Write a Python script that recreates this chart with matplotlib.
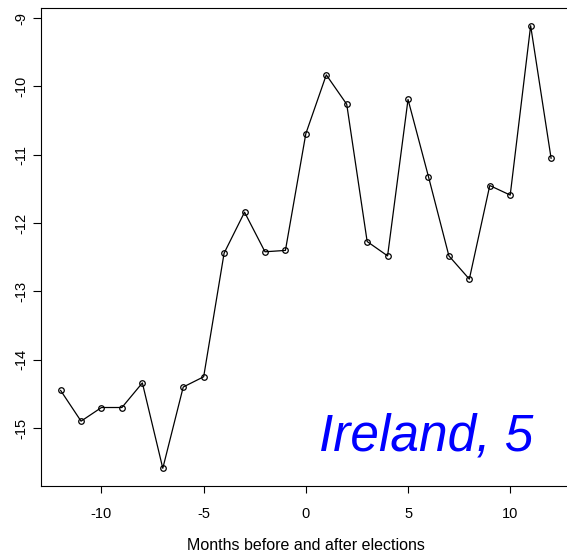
import numpy as np
import matplotlib
matplotlib.use("Agg")
import matplotlib.pyplot as plt

plt.rcParams['font.family'] = ['Liberation Sans', 'DejaVu Sans']

# months relative to the election and the measured value
months = [-12, -11, -10, -9, -8, -7, -6, -5, -4, -3, -2, -1,
          0, 1, 2, 3, 4, 5, 6, 7, 8, 9, 10, 11, 12]
values = [-14.45, -14.90, -14.70, -14.70, -14.34, -15.59, -14.40, -14.25,
          -12.44, -11.84, -12.42, -12.40, -10.69, -9.83, -10.26, -12.27,
          -12.48, -10.19, -11.32, -12.48, -12.82, -11.45, -11.59, -9.11,
          -11.05]
xticks = [-10, -5, 0, 5, 10]
yticks = [-15, -14, -13, -12, -11, -10, -9]
label = "Ireland, 5"

fig = plt.figure(figsize=(5.67, 5.56), dpi=100)
ax = fig.add_axes([41 / 567, 70 / 556, 529.7 / 567, 478 / 556])

ax.plot(months, values, color='black', lw=0.9, marker='o', ms=4,
        mfc='none', mec='black', mew=0.9)

# R style 4% padding around the data
xr = max(months) - min(months)
yr = max(values) - min(values)
ax.set_xlim(min(months) - 0.04 * xr, max(months) + 0.04 * xr)
ax.set_ylim(min(values) - 0.04 * yr, max(values) + 0.04 * yr)

ax.set_xticks(xticks)
ax.set_yticks(yticks)
ax.set_xticklabels([str(t) for t in xticks], fontsize=10.5)
ax.set_yticklabels([str(t) for t in yticks], fontsize=10.5, rotation=90,
                   va='center')
ax.tick_params(axis='x', direction='out', length=5, width=0.8, pad=10)
ax.tick_params(axis='y', direction='out', length=6, width=0.8, pad=3)
for s in ax.spines.values():
    s.set_linewidth(0.8)

ax.set_xlabel("Months before and after elections", fontsize=11.5, labelpad=12)

ax.text(11.15, -15.33, label, color='blue', fontsize=37, style='italic',
        ha='right', va='baseline')

fig.savefig("out.png", dpi=100)
